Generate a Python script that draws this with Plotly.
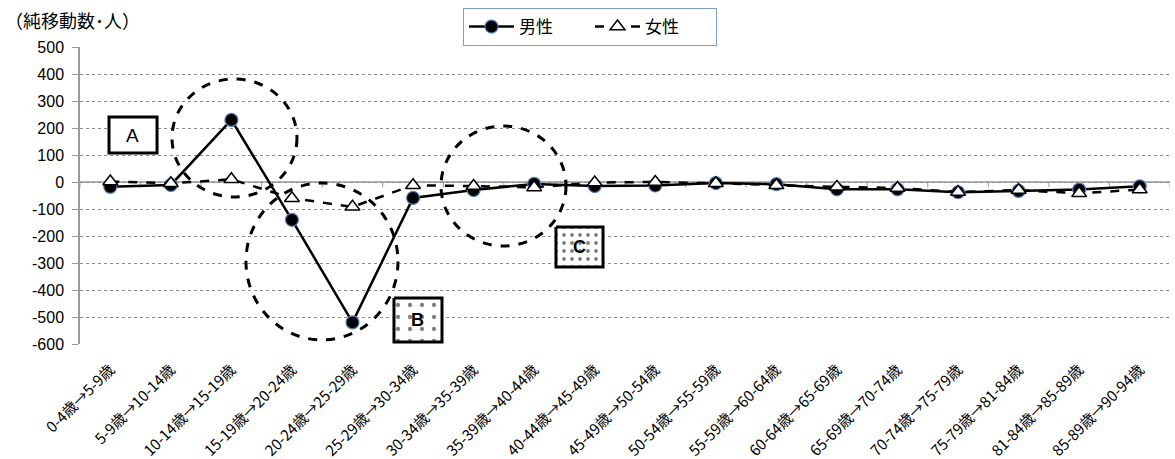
import plotly.graph_objects as go

categories = ["0-4歳→5-9歳", "5-9歳→10-14歳", "10-14歳→15-19歳", "15-19歳→20-24歳",
              "20-24歳→25-29歳", "25-29歳→30-34歳", "30-34歳→35-39歳", "35-39歳→40-44歳",
              "40-44歳→45-49歳", "45-49歳→50-54歳", "50-54歳→55-59歳", "55-59歳→60-64歳",
              "60-64歳→65-69歳", "65-69歳→70-74歳", "70-74歳→75-79歳", "75-79歳→81-84歳",
              "81-84歳→85-89歳", "85-89歳→90-94歳"]
male = [-18, -11, 230, -140, -520, -59, -30, -7, -15, -13, -4, -8, -27, -27, -38, -33, -28, -16]
female = [2, -5, 10, -60, -92, -12, -15, -20, -2, 0, -5, -12, -18, -22, -37, -30, -42, -28]
y_ticks = [500, 400, 300, 200, 100, 0, -100, -200, -300, -400, -500, -600]

FONT = "Liberation Sans, Noto Sans CJK JP"
JP = "Noto Sans CJK JP"
xi = list(range(len(categories)))

fig = go.Figure()

def pattern_box(x0, x1, y0, y1, size, solidity):
    fig.add_trace(go.Scatter(
        x=[x0, x1, x1, x0, x0], y=[y0, y0, y1, y1, y0], mode="lines",
        fill="toself", fillcolor="white",
        fillpattern=dict(shape=".", fgcolor="black", bgcolor="white", size=size, solidity=solidity),
        line=dict(color="black", width=3), showlegend=False, hoverinfo="skip"))

fig.add_trace(go.Scatter(
    x=xi, y=male, name="男性", mode="lines+markers",
    line=dict(color="black", width=2.5),
    marker=dict(symbol="circle", size=13, color="black", line=dict(color="#4f81bd", width=1.2))))
fig.add_trace(go.Scatter(
    x=xi, y=female, name="女性", mode="lines+markers",
    line=dict(color="black", width=2.5, dash="dash"),
    marker=dict(symbol="triangle-up", size=13, color="white", line=dict(color="black", width=1.5))))

pattern_box(4.685, 5.478, -429.6, -592.6, 12, 0.1)
pattern_box(7.36, 8.137, -166.7, -314.8, 8, 0.18)

shapes = []
for (x0, x1, y0, y1) in [(1.019, 3.083, -55.6, 381.5), (2.241, 4.751, -585, -3.7), (5.461, 7.526, -237, 207.4)]:
    shapes.append(dict(type="circle", xref="x", yref="y", x0=x0, x1=x1, y0=y0, y1=y1,
                       line=dict(color="black", width=3, dash="dash"), layer="above"))
shapes.append(dict(type="rect", xref="x", yref="y", x0=-0.021, x1=0.772, y0=107.4, y1=240.7,
                   line=dict(color="black", width=3), fillcolor="white", layer="above"))
for i in range(len(categories) + 1):
    shapes.append(dict(type="line", xref="x", yref="y", x0=i - 0.5, x1=i - 0.5, y0=0, y1=-20,
                       line=dict(color="#999999", width=1), layer="below"))
shapes.append(dict(type="line", xref="paper", yref="y", x0=0, x1=1, y0=0, y1=0,
                   line=dict(color="#999999", width=1.5), layer="below"))

annotations = [
    dict(x=0.375, y=174, xref="x", yref="y", text="A", showarrow=False,
         font=dict(family=FONT, size=19, color="black")),
    dict(x=5.08, y=-511, xref="x", yref="y", text="<b>B</b>", showarrow=False,
         font=dict(family=FONT, size=18, color="black")),
    dict(x=7.75, y=-240, xref="x", yref="y", text="<b>C</b>", showarrow=False,
         font=dict(family=FONT, size=18, color="black")),
    dict(x=-77 / 1090, y=1 + (47 - 20) / 297, xref="paper", yref="paper", xanchor="left", yanchor="middle",
         text="（純移動数･人）", showarrow=False,
         font=dict(family=JP, size=18, color="black")),
]

fig.update_layout(
    width=1175, height=459,
    margin=dict(l=80, r=5, t=47, b=115),
    paper_bgcolor="white", plot_bgcolor="white",
    font=dict(family=FONT, size=14, color="black"),
    shapes=shapes, annotations=annotations,
    legend=dict(orientation="h", x=(590 - 80) / 1090, y=1 + (47 - 8) / 297, xanchor="center", yanchor="top",
                bordercolor="#7f9fc8", borderwidth=1, bgcolor="white",
                itemwidth=45, entrywidth=66, entrywidthmode="pixels",
                font=dict(family=JP, size=17, color="black")),
    showlegend=True,
)
fig.update_xaxes(
    range=[-0.5, len(categories) - 0.5], tickmode="array", tickvals=xi, ticktext=categories,
    tickangle=-45, tickfont=dict(family=JP, size=15, color="black"), showgrid=False,
    zeroline=False, showline=False, ticks="", automargin=False, ticklabelstandoff=13)
fig.update_yaxes(
    range=[-600, 500], tickmode="array", tickvals=y_ticks, ticktext=[str(v) for v in y_ticks],
    showgrid=True, gridcolor="#8c8c8c", griddash="dot", gridwidth=1,
    zeroline=False, showline=True, linecolor="#999999", linewidth=1.5,
    ticks="outside", ticklen=6, tickcolor="#999999", tickfont=dict(family=FONT, size=16, color="black"),
    automargin=False, ticklabelstandoff=5)

fig.write_html("out.html", config={"displayModeBar": False},
               post_script="document.body.style.margin='0';document.body.style.padding='0';")
